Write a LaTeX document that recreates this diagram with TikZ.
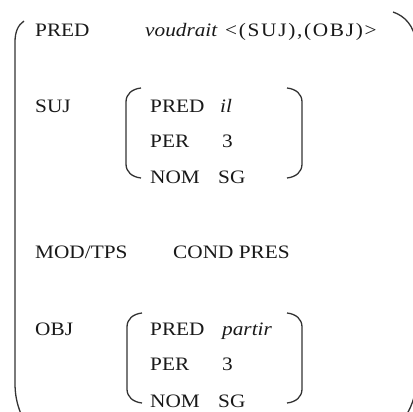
\documentclass[tikz,border=0pt]{standalone}
\usepackage{fontspec}
\setmainfont{Liberation Serif}
\newcommand{\fsw}[1]{\scalebox{1.12}[1]{#1}}
\newcommand{\fsbracket}[4]{%
  \draw[brk] (#1+15,#3) .. controls (#1+6,#3+1) and (#1,#3+6) .. (#1,#3+14)
    -- (#1,#4-14) .. controls (#1,#4-6) and (#1+6,#4-1) .. (#1+15,#4);
  \draw[brk] (#2-15,#3) .. controls (#2-6,#3+1) and (#2,#3+6) .. (#2,#3+14)
    -- (#2,#4-14) .. controls (#2,#4-6) and (#2-6,#4-1) .. (#2-15,#4);}
\begin{document}
\begin{tikzpicture}[x=1pt,y=-1pt,
  brk/.style={draw=black!80,line width=1.3pt},
  txt/.style={inner sep=0pt,anchor=base west,text=black!90,font=\fontsize{19}{22}\selectfont}]
\useasboundingbox (0,0) rectangle (413,412);
\clip (0,0) rectangle (413,412);
% outer bracket
\draw[brk] (24,21) .. controls (18,25) and (15,32) .. (15,42) -- (15,383)
  .. controls (15,395) and (17,404) .. (21,414);
\draw[brk] (393,12) .. controls (405,16) and (414,26) .. (416,42) -- (416,380)
  .. controls (416,395) and (412,405) .. (407,414);
% inner brackets
\fsbracket{126}{302}{88}{178}
\fsbracket{127}{302}{313}{403}
% text
\node[txt] (pred) at (35,37) {\fsw{PRED}};
\node[txt] (voud) at (145,37) {\fsw{\itshape voudrait}};
\node[txt] (args) at (225,37) {\fsw{\addfontfeature{LetterSpace=8}<(SUJ),(OBJ)>}};
\node[txt] (suj) at (35,113) {\fsw{SUJ}};
\node[txt] (spred) at (150,113) {\fsw{PRED}};
\node[txt] (sil) at (220,113) {\fsw{\itshape il}};
\node[txt] (sper) at (150,148) {\fsw{PER}};
\node[txt] (s3) at (222,148) {\fsw{3}};
\node[txt] (snom) at (150,183) {\fsw{NOM}};
\node[txt] (ssg) at (218,183) {\fsw{SG}};
\node[txt] (mod) at (35,258) {\fsw{MOD/TPS}};
\node[txt] (cond) at (173,258) {\fsw{COND PRES}};
\node[txt] (obj) at (35,335) {\fsw{OBJ}};
\node[txt] (opred) at (150,335) {\fsw{PRED}};
\node[txt] (opart) at (222,335) {\fsw{\itshape partir}};
\node[txt] (oper) at (150,370) {\fsw{PER}};
\node[txt] (o3) at (222,370) {\fsw{3}};
\node[txt] (onom) at (150,407) {\fsw{NOM}};
\node[txt] (osg) at (218,407) {\fsw{SG}};
\end{tikzpicture}
\end{document}
